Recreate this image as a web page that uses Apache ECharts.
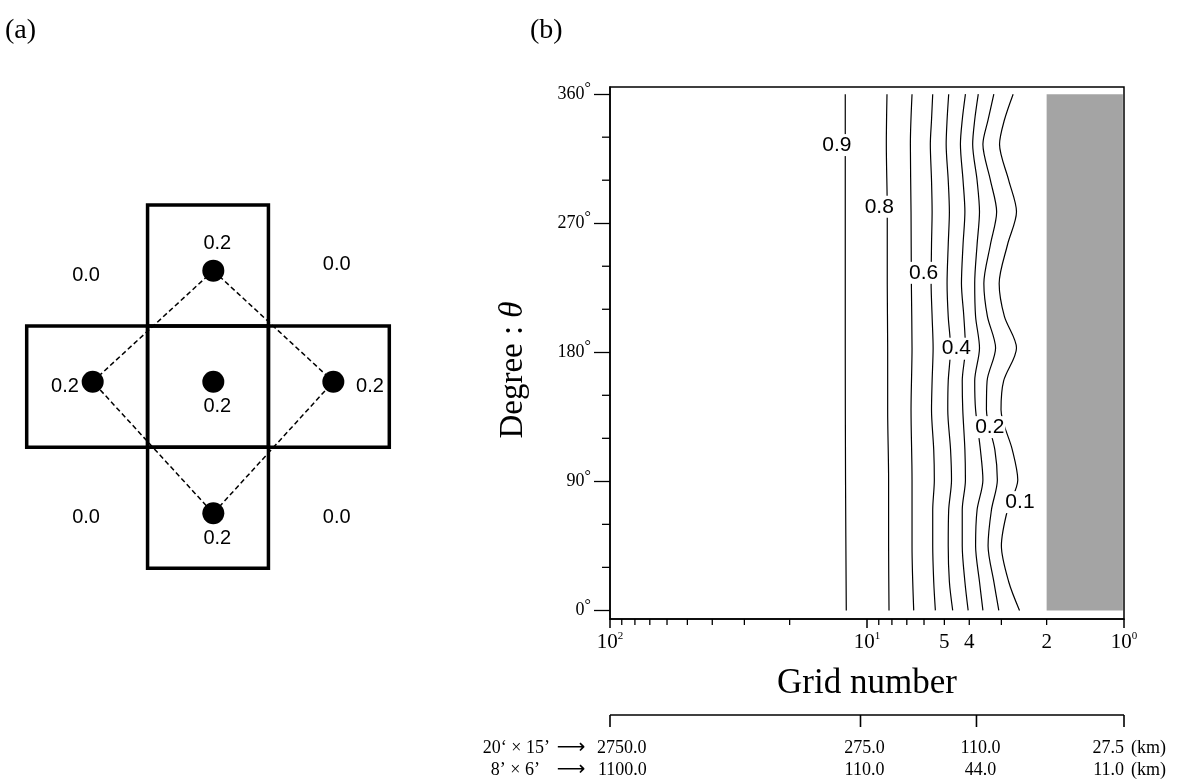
<!DOCTYPE html>
<html>
<head>
<meta charset="utf-8">
<style>
html,body{margin:0;padding:0;background:#fff}
#chart{width:1179px;height:782px}
</style>
<script src="https://cdn.jsdelivr.net/npm/echarts@6/dist/echarts.min.js"></script>
</head>
<body>
<div id="chart"></div>
<script>
var serif = '"Liberation Serif","Times New Roman",serif';
var sans = '"Liberation Sans",Arial,sans-serif';

// (a) cross of grid cells, sample points and their weights (cell units)
var cells = [[0, 0], [0, 1], [0, -1], [-1, 0], [1, 0]];
var dots = [[0.044, 0.041], [0.044, 0.958], [1.037, 0.041], [0.044, -1.046], [-0.954, 0.041]];
var diamond = [1, 2, 3, 4, 1]; // top, right, bottom, left, top
var weightPos = [[0.077, 1.184], [0.077, -0.165], [0.077, -1.252], [-1.183, 0.0], [1.34, 0.0],
                 [-1.009, 0.914], [1.065, 1.005], [-1.009, -1.079], [1.065, -1.079]];
var weightText = ['0.2', '0.2', '0.2', '0.2', '0.2', '0.0', '0.0', '0.0', '0.0'];

// (b) contour lines: degree θ and grid number along each line
var thetaA = [0, 20, 45, 70, 91, 112, 140, 160, 183, 205, 228, 255, 278, 300, 325, 342, 360];
var line01 = [2.55, 2.81, 3.00, 2.84, 2.59, 2.72, 3.01, 2.94, 2.62, 2.92, 3.06, 2.84, 2.62, 2.81, 3.05, 2.92, 2.70];
var line02 = [3.07, 3.21, 3.38, 3.28, 3.11, 3.18, 3.43, 3.41, 3.16, 3.40, 3.51, 3.31, 3.13, 3.31, 3.54, 3.38, 3.21];
var line03 = [3.54, 3.65, 3.78, 3.73, 3.54, 3.62, 3.78, 3.81, 3.65, 3.78, 3.81, 3.73, 3.65, 3.73, 3.88, 3.81, 3.69];
var line04 = [4.04, 4.16, 4.26, 4.26, 4.14, 4.16, 4.24, 4.26, 4.14, 4.20, 4.29, 4.23, 4.16, 4.23, 4.33, 4.26, 4.14];
var line05 = [4.64, 4.78, 4.83, 4.81, 4.69, 4.73, 4.85, 4.83, 4.73, 4.83, 4.88, 4.83, 4.78, 4.83, 4.92, 4.88, 4.81];
var line06 = [5.42, 5.50, 5.55, 5.55, 5.47, 5.50, 5.61, 5.58, 5.53, 5.58, 5.63, 5.61, 5.58, 5.61, 5.67, 5.61, 5.55];
var thetaB = [0, 45, 91, 140, 183, 228, 278, 325, 360];
var line07 = [6.58, 6.68, 6.68, 6.74, 6.68, 6.72, 6.74, 6.78, 6.68];
var line08 = [8.21, 8.24, 8.24, 8.31, 8.31, 8.34, 8.34, 8.41, 8.36];
var thetaC = [0, 91, 183, 278, 360];
var line09 = [12.04, 12.12, 12.15, 12.15, 12.15];

var contourLabels = [[13.1, 324.5, '0.9'], [8.96, 281.5, '0.8'], [6.02, 235.4, '0.6'],
                     [4.49, 182.5, '0.4'], [3.33, 127.8, '0.2'], [2.54, 75.5, '0.1']];

var shadeN = [2.0, 1.01];
var shadeTheta = [0, 360];

var xLabelVals = [100, 10, 5, 4, 2, 1];
var xMajorTicks = [100, 10, 1];
var xMinorTicks = [90, 80, 70, 60, 50, 40, 30, 20, 9, 8, 7, 6, 5, 4, 3, 2];
var yLabelVals = [0, 90, 180, 270, 360];
var yMinorTicks = [30, 60, 120, 150, 210, 240, 300, 330];
var yMin = -6, yMax = 365;

// grid size scale under the plot
var kmTicks = [100, 10.6, 3.75, 1];
var km20x15 = ['2750.0', '275.0', '110.0', '27.5'];
var km8x6 = ['1100.0', '110.0', '44.0', '11.0'];

var contours = [
  {theta: thetaA, n: line01}, {theta: thetaA, n: line02}, {theta: thetaA, n: line03},
  {theta: thetaA, n: line04}, {theta: thetaA, n: line05}, {theta: thetaA, n: line06},
  {theta: thetaB, n: line07}, {theta: thetaB, n: line08}, {theta: thetaC, n: line09}
];

var chart = echarts.init(document.getElementById('chart'));

var series = [];

// shaded region (grid number 1-2)
series.push({
  type: 'custom', xAxisIndex: 0, yAxisIndex: 0, clip: false, silent: true, z: 1,
  data: [[shadeN[0], shadeTheta[0], shadeN[1], shadeTheta[1]]],
  renderItem: function (params, api) {
    var p0 = api.coord([api.value(0), api.value(3)]);
    var p1 = api.coord([api.value(2), api.value(1)]);
    return {
      type: 'rect',
      shape: {x: Math.min(p0[0], p1[0]), y: p0[1], width: Math.abs(p1[0] - p0[0]), height: p1[1] - p0[1]},
      style: {fill: '#a4a4a4'}
    };
  }
});

contours.forEach(function (c) {
  series.push({
    type: 'line', xAxisIndex: 0, yAxisIndex: 0, silent: true, z: 3,
    symbol: 'none', smooth: 0.3,
    data: c.theta.map(function (t, k) { return [c.n[k], t]; }),
    lineStyle: {color: '#000', width: 1.2, opacity: 1}
  });
});

// contour level labels (white box breaks the lines)
series.push({
  type: 'scatter', xAxisIndex: 0, yAxisIndex: 0, silent: true, z: 5,
  symbolSize: 0, itemStyle: {color: 'rgba(0,0,0,0)', opacity: 1},
  data: contourLabels,
  label: {
    show: true, position: 'inside', formatter: function (p) { return p.data[2]; },
    color: '#000', opacity: 1, textBorderWidth: 0, fontSize: 21, fontFamily: sans,
    backgroundColor: '#fff', padding: [1, 1, 0, 1]
  }
});

// minor ticks on x
series.push({
  type: 'custom', xAxisIndex: 0, yAxisIndex: 0, clip: false, silent: true,
  data: xMinorTicks.map(function (v) { return [v, yMin]; }),
  renderItem: function (params, api) {
    var p = api.coord([api.value(0), api.value(1)]);
    return {type: 'line', shape: {x1: p[0], y1: p[1], x2: p[0], y2: p[1] + 6}, style: {stroke: '#000', lineWidth: 1.3}};
  }
});

// minor ticks on y
series.push({
  type: 'custom', xAxisIndex: 0, yAxisIndex: 0, clip: false, silent: true,
  data: yMinorTicks.map(function (v) { return [100, v]; }),
  renderItem: function (params, api) {
    var p = api.coord([api.value(0), api.value(1)]);
    return {type: 'line', shape: {x1: p[0] - 8, y1: p[1], x2: p[0], y2: p[1]}, style: {stroke: '#000', lineWidth: 1.3}};
  }
});

// km bracket under the axis
series.push({
  type: 'custom', xAxisIndex: 0, yAxisIndex: 0, clip: false, silent: true,
  data: kmTicks.map(function (v, i) { return [v, yMin, i]; }),
  renderItem: function (params, api) {
    var i = api.value(2);
    var last = kmTicks.length - 1;
    var p = api.coord([api.value(0), api.value(1)]);
    var yb = p[1] + 96, y1 = p[1] + 129, y2 = p[1] + 151;
    var txt = {fill: '#000', fontSize: 18, fontFamily: serif, verticalAlign: 'middle'};
    function t(s, x, y, align) {
      return {type: 'text', x: x, y: y, style: echarts.util.extend({text: s, align: align}, txt)};
    }
    var kids = [{type: 'line', shape: {x1: p[0], y1: yb, x2: p[0], y2: yb + 12}, style: {stroke: '#000', lineWidth: 1.6}}];
    if (i === 0) {
      var pe = api.coord([kmTicks[last], yMin]);
      kids.push({type: 'line', shape: {x1: p[0], y1: yb, x2: pe[0], y2: yb}, style: {stroke: '#000', lineWidth: 1.6}});
      kids.push(t('20\u2018 \u00d7 15\u2019', p[0] - 60, y1, 'right'));
      kids.push(t('8\u2019 \u00d7 6\u2019', p[0] - 70, y2, 'right'));
      kids.push({type: 'text', x: p[0] - 39, y: y1, style: {text: '\u27f6', fill: '#000', fontSize: 20, fontFamily: '"DejaVu Sans"', align: 'center', verticalAlign: 'middle'}});
      kids.push({type: 'text', x: p[0] - 39, y: y2, style: {text: '\u27f6', fill: '#000', fontSize: 20, fontFamily: '"DejaVu Sans"', align: 'center', verticalAlign: 'middle'}});
      kids.push(t(km20x15[i], p[0] - 13, y1, 'left'));
      kids.push(t(km8x6[i], p[0] - 12, y2, 'left'));
    } else if (i === last) {
      kids.push(t(km20x15[i], p[0], y1, 'right'));
      kids.push(t(km8x6[i], p[0], y2, 'right'));
      kids.push(t('(km)', p[0] + 7, y1, 'left'));
      kids.push(t('(km)', p[0] + 7, y2, 'left'));
    } else {
      kids.push(t(km20x15[i], p[0] + 4, y1, 'center'));
      kids.push(t(km8x6[i], p[0] + 4, y2, 'center'));
    }
    return {type: 'group', children: kids};
  }
});

// (a) cells
series.push({
  type: 'custom', xAxisIndex: 1, yAxisIndex: 1, clip: false, silent: true, z: 2,
  data: cells,
  renderItem: function (params, api) {
    var cx = api.value(0), cy = api.value(1);
    var p0 = api.coord([cx - 0.5, cy + 0.5]);
    var p1 = api.coord([cx + 0.5, cy - 0.5]);
    return {
      type: 'rect',
      shape: {x: p0[0], y: p0[1], width: p1[0] - p0[0], height: p1[1] - p0[1]},
      style: {fill: 'none', stroke: '#000', lineWidth: 3.5}
    };
  }
});

series.push({
  type: 'line', xAxisIndex: 1, yAxisIndex: 1, silent: true, z: 3, symbol: 'none',
  data: diamond.map(function (k) { return dots[k]; }),
  lineStyle: {color: '#000', width: 1.5, type: [5, 3], opacity: 1}
});

series.push({
  type: 'scatter', xAxisIndex: 1, yAxisIndex: 1, silent: true, z: 4,
  symbolSize: 22, itemStyle: {color: '#000', opacity: 1},
  data: dots
});

series.push({
  type: 'scatter', xAxisIndex: 1, yAxisIndex: 1, silent: true, z: 5,
  symbolSize: 0, itemStyle: {color: 'rgba(0,0,0,0)', opacity: 1},
  data: weightPos.map(function (p, i) { return [p[0], p[1], weightText[i]]; }),
  label: {
    show: true, position: 'inside', formatter: function (p) { return p.data[2]; },
    color: '#000', opacity: 1, textBorderWidth: 0, fontSize: 20, fontFamily: sans
  }
});

var option = {
  animation: false,
  backgroundColor: '#fff',
  grid: [
    {left: 610, top: 87, width: 514, height: 532, show: true, borderColor: '#000', borderWidth: 1.5,
     backgroundColor: 'rgba(0,0,0,0)', outerBoundsMode: 'none'},
    {left: 26.7, top: 205, width: 362.6, height: 363.3, outerBoundsMode: 'none'}
  ],
  xAxis: [
    {
      type: 'log', logBase: 10, gridIndex: 0, inverse: true, min: 1, max: 100,
      axisLine: {show: true, onZero: false, lineStyle: {color: '#000', width: 1.5}},
      axisTick: {show: true, customValues: xMajorTicks, length: 9, lineStyle: {color: '#000', width: 1.5}},
      splitLine: {show: false},
      axisLabel: {
        show: true, customValues: xLabelVals, margin: 12, color: '#000',
        formatter: function (v) {
          var e = Math.round(Math.log(v) / Math.LN10);
          if (Math.abs(Math.pow(10, e) - v) < 1e-6) return '{n|10}{s|' + e + '}';
          return '{n|' + v + '}';
        },
        rich: {
          n: {fontSize: 21, fontFamily: serif, color: '#000', lineHeight: 23},
          s: {fontSize: 11, fontFamily: serif, color: '#000', verticalAlign: 'top', lineHeight: 11}
        }
      },
      name: 'Grid number', nameLocation: 'middle', nameGap: 47,
      nameTextStyle: {fontSize: 35, fontFamily: serif, color: '#000'}
    },
    {type: 'value', gridIndex: 1, min: -1.5, max: 1.5, show: false}
  ],
  yAxis: [
    {
      type: 'value', gridIndex: 0, min: yMin, max: yMax,
      axisLine: {show: true, onZero: false, lineStyle: {color: '#000', width: 1.5}},
      axisTick: {show: true, customValues: yLabelVals, length: 16, lineStyle: {color: '#000', width: 1.3}},
      splitLine: {show: false},
      axisLabel: {
        show: true, customValues: yLabelVals, margin: 19, color: '#000',
        formatter: function (v) { return '{n|' + v + '}{d|\u00b0}'; },
        rich: {
          n: {fontSize: 18, fontFamily: serif, color: '#000', lineHeight: 26},
          d: {fontSize: 16, fontFamily: serif, color: '#000', verticalAlign: 'top', lineHeight: 15}
        }
      }
    },
    {type: 'value', gridIndex: 1, min: -1.5, max: 1.5, show: false}
  ],
  graphic: [
    {type: 'text', left: 5, top: 17, style: {text: '(a)', fontSize: 28, fontFamily: serif, fill: '#000'}},
    {type: 'text', left: 530, top: 17, style: {text: '(b)', fontSize: 28, fontFamily: serif, fill: '#000'}},
    {
      type: 'text', x: 513, y: 370, rotation: Math.PI / 2,
      style: {
        text: '{a|Degree : }{t|\u03b8}', fill: '#000', align: 'center', verticalAlign: 'middle',
        rich: {
          a: {fontSize: 33, fontFamily: serif, fill: '#000'},
          t: {fontSize: 33, fontFamily: serif, fontStyle: 'italic', fill: '#000'}
        }
      }
    }
  ],
  series: series
};

chart.setOption(option);
</script>
</body>
</html>
